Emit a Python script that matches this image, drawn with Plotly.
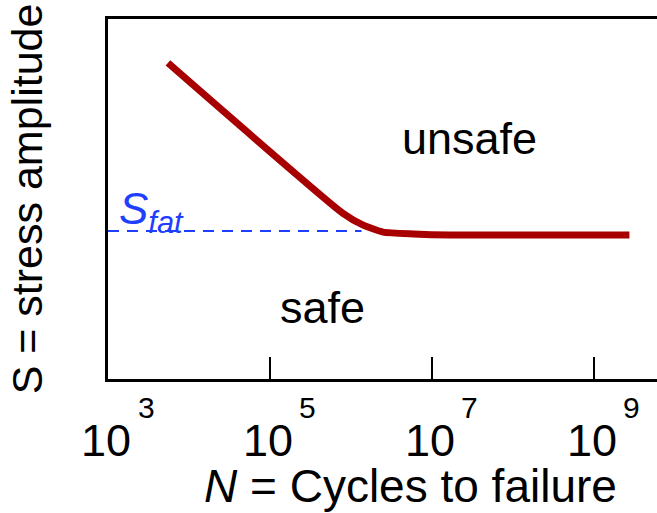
import math
import plotly.graph_objects as go

# ---- data ----
cycles = [5.5e3, 7.9e5, 1.4e6, 2.5e6, 5.9e6, 1.66e7, 2.75e9]     # N (cycles to failure)
stress = [87.8, 46.1, 42.8, 40.8, 40.3, 40.0, 40.0]               # S (arbitrary units, 0-100)
s_fat = 41.1
s_fat_end = 1.35e6
tick_exps = [3, 5, 7, 9]
tick_vals = [1e3, 1e5, 1e7, 1e9]
region_labels = ["unsafe", "safe"]
region_x = [2.95e7, 4.5e5]
region_y = [66.7, 20.0]

FONT = "Liberation Sans, Arial, sans-serif"
RED = "#A80000"
BLUE = "#1f3fff"

fig = go.Figure()

fig.add_trace(go.Scatter(x=[1e3, s_fat_end], y=[s_fat, s_fat], mode="lines",
                         line=dict(color=BLUE, width=2, dash="11px,8px"),
                         hoverinfo="skip", showlegend=False))
fig.add_trace(go.Scatter(x=cycles, y=stress, mode="lines",
                         line=dict(color=RED, width=7, shape="spline", smoothing=0.5),
                         showlegend=False))

annotations = []
for lab, xv, yv in zip(region_labels, region_x, region_y):
    annotations.append(dict(x=math.log10(xv), y=yv, xref="x", yref="y", text=lab, showarrow=False,
                            font=dict(family=FONT, size=45, color="black")))

# S_fat label
annotations.append(dict(x=3, y=s_fat, xref="x", yref="y", xanchor="left", yanchor="bottom",
                        xshift=9, yshift=-11,
                        text="<i>S</i><sub><i>fat</i></sub>", showarrow=False,
                        font=dict(family=FONT, size=44, color=BLUE)))

# tick labels 10^n
for e, v in zip(tick_exps, tick_vals):
    annotations.append(dict(x=math.log10(v), y=-0.17, xref="x", yref="paper", text="10",
                            showarrow=False, xanchor="center", yanchor="middle", xshift=-2,
                            font=dict(family=FONT, size=45, color="black")))
    annotations.append(dict(x=math.log10(v), y=-0.08, xref="x", yref="paper", text=str(e),
                            showarrow=False, xanchor="center", yanchor="middle", xshift=38,
                            font=dict(family=FONT, size=30, color="black")))

# x axis title
annotations.append(dict(x=(411 - 108) / (657 - 108), y=(379 - 486) / 360,
                        xref="paper", yref="paper", text="<i>N</i> = Cycles to failure",
                        showarrow=False, xanchor="center", yanchor="middle",
                        font=dict(family=FONT, size=46, color="black")))

fig.update_layout(
    width=657, height=513,
    margin=dict(l=108, r=0, t=19, b=134),
    paper_bgcolor="white", plot_bgcolor="white",
    annotations=annotations,
    showlegend=False,
    xaxis=dict(type="log", range=[3, 9.78], showgrid=False, zeroline=False,
               showline=True, linecolor="black", linewidth=2.5, mirror=True,
               ticks="inside", ticklen=22, tickwidth=2, tickcolor="black",
               tickvals=tick_vals[1:], showticklabels=False, automargin=False),
    yaxis=dict(range=[0, 100], showgrid=False, zeroline=False,
               showline=True, linecolor="black", linewidth=2.5, mirror=False,
               ticks="", showticklabels=False, automargin=False,
               title=dict(text="S = stress amplitude", standoff=50,
                          font=dict(family=FONT, size=43, color="black"))),
)

fig.write_html("out.html", config={"displayModeBar": False},
               post_script="document.body.style.margin='0';document.body.style.overflow='hidden';")
